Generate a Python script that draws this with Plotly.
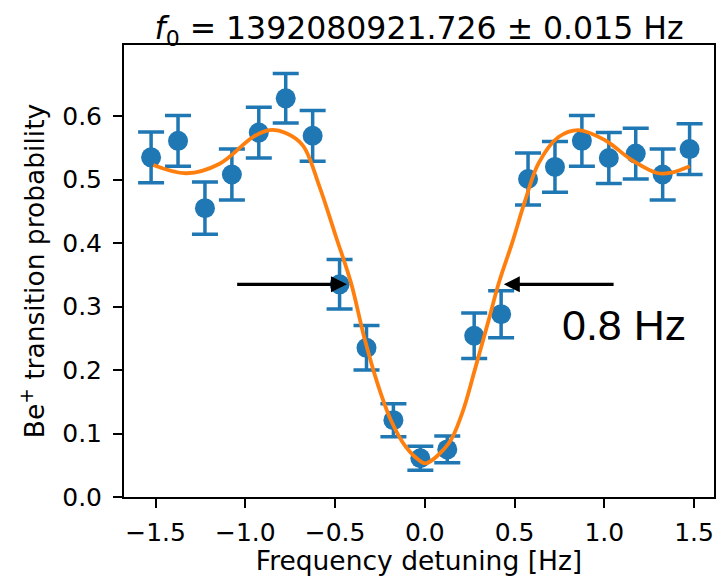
import plotly.graph_objects as go

# Measured data (detuning in Hz, transition probability, error)
detuning = [-1.525, -1.375, -1.225, -1.075, -0.925, -0.775, -0.625, -0.475, -0.325,
            -0.175, -0.025, 0.125, 0.275, 0.425, 0.575, 0.725, 0.875, 1.025, 1.175,
            1.325, 1.475]
probability = [0.535, 0.561, 0.455, 0.508, 0.574, 0.628, 0.569, 0.335, 0.235,
               0.121, 0.061, 0.075, 0.254, 0.288, 0.501, 0.520, 0.561, 0.534, 0.541,
               0.508, 0.548]
prob_err = [0.040, 0.040, 0.041, 0.040, 0.040, 0.039, 0.040, 0.039, 0.035,
            0.026, 0.019, 0.021, 0.036, 0.037, 0.041, 0.040, 0.040, 0.040, 0.040,
            0.040, 0.040]

# Fit curve
fit_x = [-1.513, -1.328, -1.143, -0.958, -0.865, -0.772, -0.680, -0.587, -0.495,
         -0.411, -0.338, -0.264, -0.189, -0.106, -0.032, 0.005, 0.134, 0.208, 0.283,
         0.356, 0.412, 0.486, 0.560, 0.634, 0.745, 0.856, 1.004, 1.152, 1.300, 1.374,
         1.476]
fit_y = [0.523, 0.510, 0.525, 0.567, 0.578, 0.573, 0.554, 0.489, 0.410,
         0.337, 0.252, 0.179, 0.121, 0.079, 0.058, 0.053, 0.085, 0.132, 0.205,
         0.279, 0.337, 0.400, 0.468, 0.526, 0.567, 0.578, 0.562, 0.531, 0.510, 0.511,
         0.521]

# Linewidth arrows
arrow_y = 0.335
left_arrow = (-1.054, -0.434)   # tail, head
right_arrow = (1.060, 0.440)
width_label = "0.8 Hz"
width_label_pos = (0.755, 0.271)

x_ticks = [-1.5, -1.0, -0.5, 0.0, 0.5, 1.0, 1.5]
x_ticktext = ["\u22121.5", "\u22121.0", "\u22120.5", "0.0", "0.5", "1.0", "1.5"]
y_ticks = [0.0, 0.1, 0.2, 0.3, 0.4, 0.5, 0.6]

BLUE = "#1f77b4"
ORANGE = "#ff7f0e"
FONT = "DejaVu Sans"

fig = go.Figure()
fig.add_trace(go.Scatter(
    x=detuning, y=probability, mode="markers",
    marker=dict(color=BLUE, size=20),
    error_y=dict(type="data", array=prob_err, color=BLUE, thickness=3.5, width=13),
    showlegend=False,
))
fig.add_trace(go.Scatter(
    x=fit_x, y=fit_y, mode="lines", line=dict(color=ORANGE, width=3.8, shape="spline", smoothing=1.0),
    showlegend=False,
))

for tail, head in (left_arrow, right_arrow):
    fig.add_annotation(
        x=head, y=arrow_y, ax=tail, ay=arrow_y,
        xref="x", yref="y", axref="x", ayref="y",
        showarrow=True, arrowhead=2, arrowsize=1.0, arrowwidth=3.2,
        arrowcolor="black", text="", standoff=0, startstandoff=0,
    )

fig.add_annotation(
    x=width_label_pos[0], y=width_label_pos[1], xref="x", yref="y",
    text=width_label, showarrow=False, xanchor="left", yanchor="middle",
    font=dict(family="Liberation Sans", size=43, color="black"),
)

fig.update_layout(
    width=718, height=576,
    margin=dict(l=124, r=2, t=45, b=79),
    paper_bgcolor="white", plot_bgcolor="white",
    font=dict(family=FONT, size=25, color="black"),
    title=dict(
        text="<i>f</i><sub>0</sub> = 1392080921.726 ± 0.015 Hz",
        x=0.5, xref="paper", xanchor="center",
        y=1, yref="paper", yanchor="bottom", pad=dict(b=6),
        font=dict(family=FONT, size=31.5, color="black"),
    ),
)
fig.update_xaxes(
    range=[-1.676, 1.611], tickvals=x_ticks, ticktext=x_ticktext,
    showgrid=False, zeroline=False, showline=True, mirror=True,
    linecolor="black", linewidth=2, ticks="outside", ticklen=9, tickwidth=2,
    tickcolor="black", ticklabelstandoff=3,
    title=dict(text="Frequency detuning [Hz]", standoff=7, font=dict(size=26.5)),
)
fig.update_yaxes(
    range=[0, 0.712], tickvals=y_ticks, tickformat=".1f",
    showgrid=False, zeroline=False, showline=True, mirror=True,
    linecolor="black", linewidth=2, ticks="outside", ticklen=9, tickwidth=2,
    tickcolor="black", ticklabelstandoff=6,
    title=dict(text="Be<sup>+</sup> transition probability", standoff=10, font=dict(size=26.5)),
)

fig.write_html("out.html", config={"displayModeBar": False},
               post_script="document.body.style.margin='0';")
